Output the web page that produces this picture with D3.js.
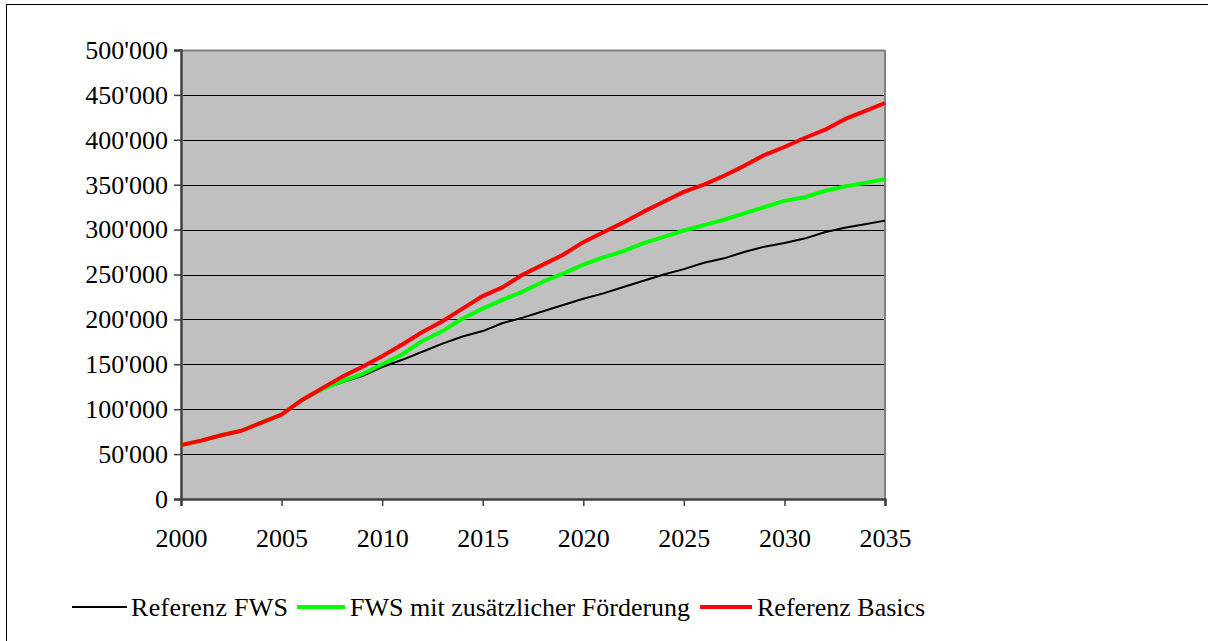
<!DOCTYPE html>
<html>
<head>
<meta charset="utf-8">
<script src="https://cdn.jsdelivr.net/npm/d3@7"></script>
<style>
  html, body { margin: 0; padding: 0; background: #fff; }
  svg { display: block; }
  text { font-family: "Liberation Serif", "Times New Roman", serif; fill: #000; }
</style>
</head>
<body>
<svg id="chart" width="1208" height="641"></svg>
<script>
// Jahre 2000 bis 2035
const years = d3.range(2000, 2036);

// Werte je Szenario (Anzahl)
const referenzFWS = [
  60000, 65000, 71000, 76000, 85000, 94000, 110000, 122000, 130000, 137000,
  147000, 155000, 164000, 173000, 181000, 187000, 196000, 202000, 209000, 216000,
  223000, 229000, 236000, 243000, 250000, 256000, 263000, 268000, 275000, 281000,
  285000, 290000, 297000, 302000, 306000, 310000
];
const fwsFoerderung = [
  60000, 65000, 71000, 76000, 85000, 94000, 110000, 122000, 131000, 139000,
  150000, 161000, 176000, 187000, 201000, 212000, 222000, 231000, 242000, 251000,
  261000, 269000, 276000, 285000, 292000, 299000, 305000, 311000, 318000, 325000,
  332000, 336000, 343000, 348000, 352000, 356000
];
const referenzBasics = [
  60000, 65000, 71000, 76000, 85000, 94000, 110000, 123000, 136000, 147000,
  159000, 172000, 186000, 198000, 212000, 226000, 236000, 250000, 261000, 272000,
  286000, 297000, 308000, 320000, 331000, 342000, 350000, 360000, 371000, 383000,
  392000, 402000, 411000, 423000, 432000, 441000
];

const seriesNames = ["Referenz FWS", "FWS mit zusätzlicher Förderung", "Referenz Basics"];
const seriesColors = ["#000000", "#00ff00", "#ff0000"];
const seriesWidths = [2, 4, 4];
const seriesValues = [referenzFWS, fwsFoerderung, referenzBasics];

const yTicks = [0, 50000, 100000, 150000, 200000, 250000, 300000, 350000, 400000, 450000, 500000];
const xTicks = [2000, 2005, 2010, 2015, 2020, 2025, 2030, 2035];

const serif = "Liberation Serif, Times New Roman, serif";
const fontSize = 26;

const svg = d3.select("#chart");

// Rahmen um die Grafik
svg.append("rect")
  .attr("x", 6.5).attr("y", 4.5)
  .attr("width", 1400).attr("height", 800)
  .attr("fill", "none").attr("stroke", "#000").attr("stroke-width", 1);

const plot = { left: 181, right: 885, top: 50, bottom: 499 };

const x = d3.scaleLinear().domain([2000, 2035]).range([plot.left, plot.right]);
const y = d3.scaleLinear().domain([0, 500000]).range([plot.bottom, plot.top]);

// Hintergrund der Zeichenfläche
svg.append("rect")
  .attr("x", plot.left).attr("y", plot.top)
  .attr("width", plot.right - plot.left).attr("height", plot.bottom - plot.top)
  .attr("fill", "#c0c0c0");

// Horizontale Gitterlinien
svg.append("g")
  .selectAll("line")
  .data(yTicks.filter(d => d > 0 && d < 500000))
  .join("line")
  .attr("x1", plot.left).attr("x2", plot.right)
  .attr("y1", d => Math.round(y(d)) + 0.5).attr("y2", d => Math.round(y(d)) + 0.5)
  .attr("stroke", "#000").attr("stroke-width", 1);

// Oberer und rechter Rand der Zeichenfläche
svg.append("line")
  .attr("x1", plot.left).attr("x2", plot.right)
  .attr("y1", plot.top + 0.5).attr("y2", plot.top + 0.5)
  .attr("stroke", "#808080").attr("stroke-width", 2);
svg.append("line")
  .attr("x1", plot.right).attr("x2", plot.right)
  .attr("y1", plot.top).attr("y2", plot.bottom)
  .attr("stroke", "#808080").attr("stroke-width", 2);

const fmt = d => d3.format(",")(d).replace(/,/g, "'");

// Y-Achse
const yAxis = svg.append("g")
  .attr("transform", `translate(${plot.left},0)`)
  .call(d3.axisLeft(y).tickValues(yTicks).tickFormat(fmt).tickSize(7).tickPadding(6))
  .attr("font-family", serif)
  .attr("font-size", fontSize);
yAxis.select(".domain").attr("stroke", "#404040").attr("stroke-width", 2.5);
yAxis.selectAll(".tick line").attr("stroke", "#404040").attr("stroke-width", 1.5);
yAxis.selectAll(".tick text").attr("fill", "#000");

// X-Achse
const xAxis = svg.append("g")
  .attr("transform", `translate(0,${plot.bottom})`)
  .call(d3.axisBottom(x).tickValues(xTicks).tickFormat(d3.format("d")).tickSize(7).tickPadding(23))
  .attr("font-family", serif)
  .attr("font-size", fontSize);
xAxis.select(".domain").attr("stroke", "#404040").attr("stroke-width", 2.5);
xAxis.selectAll(".tick line").attr("stroke", "#404040").attr("stroke-width", 1.5);
xAxis.selectAll(".tick text").attr("fill", "#000");

// Kurven
const line = d3.line()
  .x((d, i) => x(years[i]))
  .y(d => y(d));

svg.append("g")
  .selectAll("path")
  .data(seriesValues)
  .join("path")
  .attr("d", d => line(d))
  .attr("fill", "none")
  .attr("stroke", (d, i) => seriesColors[i])
  .attr("stroke-width", (d, i) => seriesWidths[i])
  .attr("stroke-linejoin", "round");

// Legende
const legendY = 607;
const legendItems = [
  { x1: 72, x2: 127, tx: 131 },
  { x1: 297, x2: 345, tx: 350 },
  { x1: 700, x2: 752, tx: 757 }
];
const legend = svg.append("g")
  .attr("font-family", serif)
  .attr("font-size", fontSize);
legendItems.forEach((it, i) => {
  legend.append("line")
    .attr("x1", it.x1).attr("x2", it.x2)
    .attr("y1", legendY).attr("y2", legendY)
    .attr("stroke", seriesColors[i]).attr("stroke-width", seriesWidths[i]);
  legend.append("text")
    .attr("x", it.tx).attr("y", legendY)
    .attr("dy", "0.33em")
    .attr("letter-spacing", i === 0 ? 0.3 : 0)
    .text(seriesNames[i]);
});
</script>
</body>
</html>
